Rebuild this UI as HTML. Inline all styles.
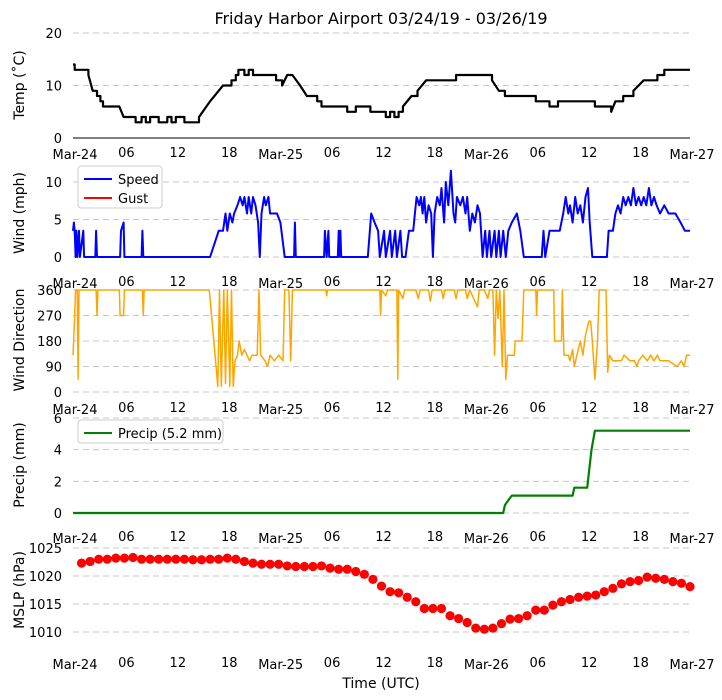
<!DOCTYPE html>
<html><head><meta charset="utf-8"><style>
body{margin:0;background:#fff}
svg{display:block;font-family:"DejaVu Sans","Liberation Sans",sans-serif}
</style></head><body>
<svg id="chart" width="722" height="700" viewBox="0 0 722 700" xmlns="http://www.w3.org/2000/svg">
<text x="381" y="24" font-size="16" text-anchor="middle">Friday Harbor Airport 03/24/19 - 03/26/19</text>
<text x="381" y="688" font-size="14" text-anchor="middle">Time (UTC)</text>
</svg>
<script>
const xTickHours = [0,6,12,18,24,30,36,42,48,54,60,66,72];
const xTickLabels = ["Mar-24","06","12","18","Mar-25","06","12","18","Mar-26","06","12","18","Mar-27"];
const tempObs = [[0,14],[0.2,13],[1.5,13],[1.8,12],[2.3,9],[2.8,8],[3.2,7],[3.5,6],[5.4,6],[5.9,4],[7,4],[7.3,3],[8,4],[8.5,3],[9,4],[9.5,4],[10,3],[11,4],[11.5,3],[12,4],[13,3],[14.2,3],[14.7,4],[16,7],[17.5,10],[18.5,11],[19,12],[19.3,13],[20,12],[20.5,13],[21,12],[22,12],[23.3,12],[23.7,11],[24.4,10],[25,12],[25.6,12],[26.5,10],[27.3,8],[28.5,7],[29,6],[31.4,6],[32,5],[33,6],[34.7,5],[35.5,5],[36,5],[36.5,4],[37,5],[37.5,4],[38,5],[38.5,6],[39.5,8],[40.2,9],[41.2,11],[42.9,11],[44.2,11],[44.7,12],[47.6,12],[48.9,11],[49.7,9],[50.4,8],[53.3,8],[54,7],[55.6,6],[56.6,7],[60.4,7],[60.9,6],[62.3,6],[62.8,5],[63.3,7],[64.2,8],[65.4,9],[66.6,11],[68.2,12],[69,13],[72,13]];
const windObs = [[0,3.5],[0.1,4.6],[0.2,3.5],[0.3,0],[0.4,3.5],[0.5,0],[0.7,3.5],[0.8,0],[1.2,3.5],[1.3,0],[2.6,0],[2.7,3.5],[2.8,0],[5.5,0],[5.6,3.5],[5.9,4.6],[6,0],[8,0],[8.1,3.5],[8.2,0],[16,0],[17,3.5],[17.5,3.5],[17.8,5.8],[18,3.5],[18.3,5.8],[18.6,4.6],[18.8,5.8],[19.2,6.9],[19.5,8],[19.8,6.9],[20,8],[20.3,5.8],[20.5,8],[20.8,5.8],[21,8],[21.3,6.9],[21.6,4.6],[21.8,0],[22,5.8],[22.3,8],[22.5,6.9],[22.8,8],[23,5.8],[23.8,5.8],[24.2,4.6],[24.7,0],[25.8,0],[25.9,4.6],[26,0],[29.3,0],[29.4,3.5],[29.6,0],[29.8,3.5],[29.9,0],[30.9,0],[31,3.5],[31.1,0],[31.2,3.5],[31.3,0],[34.4,0],[34.8,5.8],[35.2,4.6],[35.6,3.5],[35.8,0],[36.3,3.5],[36.5,0],[37,3.5],[37.2,0],[37.6,3.5],[37.8,0],[38.2,3.5],[38.4,0],[38.8,0],[39.2,3.5],[39.7,3.5],[39.9,5.8],[40.1,8],[40.4,6.9],[40.6,8],[40.8,5.8],[41,8],[41.2,4.6],[41.5,6.9],[41.8,5.8],[42,0],[42.2,5.8],[42.5,8],[42.8,6.9],[43,9.2],[43.3,4.6],[43.5,10],[43.8,6.9],[44.1,11.5],[44.4,5.8],[44.6,4.6],[44.8,8],[45.2,6.9],[45.5,8],[45.8,5.8],[46,8],[46.3,3.5],[46.6,5.8],[46.9,4.6],[47.2,6.9],[47.5,5.8],[47.8,0],[48.1,3.5],[48.3,0],[48.6,3.5],[48.8,0],[49.2,3.5],[49.4,0],[49.7,3.5],[49.9,0],[50.2,3.5],[50.5,0],[50.8,3.5],[51.2,4.6],[51.8,5.8],[52.2,3.5],[52.6,0],[54.7,0],[54.9,3.5],[55.1,0],[55.6,3.5],[56.8,3.5],[57.2,5.8],[57.5,8],[57.8,5.8],[58,6.9],[58.3,4.6],[58.6,8],[58.9,5.8],[59.2,6.9],[59.5,4.6],[59.8,8],[60.1,9.2],[60.3,4.6],[60.6,0],[62.3,0],[62.5,3.5],[63,3.5],[63.3,5.8],[63.6,6.9],[63.9,5.8],[64.2,8],[64.5,6.9],[64.8,8],[65.1,6.9],[65.4,9.2],[65.7,6.9],[66,8],[66.3,6.9],[66.6,8],[66.9,6.9],[67.2,9.2],[67.5,6.9],[67.8,8],[68.1,6.9],[68.5,5.8],[69,6.9],[69.5,5.8],[70.3,5.8],[70.9,4.6],[71.4,3.5],[72,3.5]];
const dirObs = [[0,130],[0.1,200],[0.3,360],[0.5,360],[0.6,45],[0.7,360],[2.7,360],[2.8,270],[2.9,360],[5.4,360],[5.5,270],[5.9,270],[6,360],[8.1,360],[8.2,270],[8.3,360],[15.9,360],[16.9,20],[17.1,360],[17.3,20],[17.6,360],[17.8,30],[18,360],[18.3,20],[18.5,360],[18.7,20],[18.9,110],[19.2,130],[19.4,180],[19.7,130],[20,150],[20.3,130],[20.6,110],[20.9,130],[21.5,130],[21.7,360],[21.9,130],[22.4,110],[22.7,90],[23,130],[23.5,110],[24,130],[24.5,110],[24.7,360],[25.2,360],[25.4,110],[25.6,360],[26,360],[29.5,360],[29.6,340],[29.7,360],[35.8,360],[35.9,270],[36,360],[36.5,340],[36.7,360],[37.8,360],[37.9,45],[38,360],[38.5,330],[38.7,360],[40,360],[40.3,330],[40.5,360],[41.5,360],[41.7,320],[41.9,360],[43,360],[43.2,330],[43.4,360],[44.5,360],[44.7,330],[44.9,360],[45.8,360],[46,330],[46.3,360],[47.2,300],[47.4,360],[48,360],[48.4,330],[48.6,360],[49,360],[49.2,130],[49.4,360],[49.6,260],[49.8,360],[50.1,90],[50.3,360],[50.5,45],[50.7,130],[51.2,130],[51.5,130],[51.6,180],[52.4,180],[52.6,360],[54,360],[54.1,270],[54.2,360],[56.1,360],[56.2,180],[57,180],[57.1,360],[57.3,130],[57.8,130],[58,110],[58.3,150],[58.5,90],[58.8,130],[59.2,180],[59.5,130],[59.8,200],[60.2,250],[60.4,250],[60.6,180],[60.9,45],[61.2,180],[61.4,360],[62.2,360],[62.4,70],[62.6,130],[63,110],[64,110],[64.3,130],[65,110],[65.5,110],[65.8,90],[66,110],[66.5,130],[67,110],[67.4,130],[67.8,110],[68.2,130],[68.5,110],[69.5,110],[70,100],[70.5,90],[71,110],[71.3,90],[71.6,130],[72,130]];
const precipObs = [[0,0],[50.2,0],[50.4,0.5],[50.8,0.8],[51.2,1.1],[58.3,1.1],[58.5,1.6],[60,1.6],[60.3,3],[60.5,4],[60.7,4.6],[60.9,5.2],[72,5.2]];
const mslpHours = [1,2,3,4,5,6,7,8,9,10,11,12,13,14,15,16,17,18,19,20,21,22,23,24,25,26,27,28,29,30,31,32,33,34,35,36,37,38,39,40,41,42,43,44,45,46,47,48,49,50,51,52,53,54,55,56,57,58,59,60,61,62,63,64,65,66,67,68,69,70,71,72];
const mslpValues = [1022.3,1022.6,1023.0,1023.0,1023.2,1023.2,1023.3,1023.0,1023.0,1023.0,1023.0,1023.0,1023.0,1022.9,1022.9,1023.0,1023.0,1023.2,1023.0,1022.6,1022.3,1022.1,1022.1,1022.1,1021.8,1021.7,1021.7,1021.7,1021.8,1021.4,1021.2,1021.2,1020.8,1020.3,1019.4,1018.2,1017.2,1017.0,1016.2,1015.4,1014.2,1014.2,1014.2,1012.9,1012.4,1011.7,1010.7,1010.5,1010.7,1011.5,1012.3,1012.4,1012.9,1013.9,1013.9,1014.8,1015.4,1015.8,1016.2,1016.4,1016.6,1017.2,1017.8,1018.6,1019.0,1019.2,1019.8,1019.6,1019.4,1019.0,1018.7,1018.1];
const tempTicks = [0,10,20];
const windTicks = [0,5,10];
const dirTicks = [0,90,180,270,360];
const precipTicks = [0,2,4,6];
const mslpTicks = [1010,1015,1020,1025];

const svg = document.getElementById('chart');
const NS = 'http://www.w3.org/2000/svg';
function mk(tag, attrs, parent){const e=document.createElementNS(NS,tag);for(const k in attrs)e.setAttribute(k,attrs[k]);(parent||svg).appendChild(e);return e;}
const X0=73, X1=690;
function xS(h){return X0+h*(X1-X0)/72;}
function lin(v0,y0,v1,y1){return v=>y0+(v-v0)*(y1-y0)/(v1-v0);}

const panels = [
 {name:'temp',label:'Temp (\u02daC)',ys:lin(0,138,20,33),ticks:tempTicks,xlab:157,cy:85,axisLine:true},
 {name:'wind',label:'Wind (mph)',ys:lin(0,257,10,182),ticks:windTicks,xlab:286,cy:213},
 {name:'direction',label:'Wind Direction',ys:lin(0,392,360,290),ticks:dirTicks,xlab:412,cy:340},
 {name:'precip',label:'Precip (mm)',ys:lin(0,513,6,418),ticks:precipTicks,xlab:541,cy:465},
 {name:'mslp',label:'MSLP (hPa)',ys:lin(1010,632,1025,548),ticks:mslpTicks,xlab:667,cy:590}
];

panels.forEach(p=>{
  const g=mk('g',{});
  
  
  p.g=g;
  p.ticks.forEach(t=>{
    const y=p.ys(t);
    if(!(p.axisLine && t===0)){
      const l=mk('line',{x1:X0,x2:X1,y1:y,y2:y,stroke:'#c8c8c8','stroke-width':1,'stroke-dasharray':'6,4'},g);
      
      
    }
    const tl=mk('text',{x:62,y:y+5,'font-size':13,'text-anchor':'end'},g);
    tl.textContent=t;
    
    
  });
  if(p.axisLine){
    const a=mk('line',{x1:X0,x2:X1,y1:p.ys(0),y2:p.ys(0),stroke:'#000','stroke-width':1},g);
    
    
  }
  xTickHours.forEach((h,i)=>{
    const t=mk('text',{x:xS(h)+2,y:p.xlab+(i%4===0?2:0),'font-size':13,'text-anchor':'middle'},g);
    t.textContent=xTickLabels[i];
    
    
  });
  const yl=mk('text',{x:0,y:0,'font-size':14,'text-anchor':'middle',transform:`translate(24,${p.cy}) rotate(-90)`},g);
  yl.textContent=p.label;
  
  
});

function line(obs,p,color,name,w,step){
  const pts=[];
  obs.forEach((o,i)=>{
    if(step && i>0 && Math.abs(o[1]-obs[i-1][1])<=1){
      pts.push(xS(o[0]).toFixed(1)+','+p.ys(obs[i-1][1]).toFixed(1));
    }
    pts.push(xS(o[0]).toFixed(1)+','+p.ys(o[1]).toFixed(1));
  });
  const pl=mk('polyline',{points:pts.join(' '),fill:'none',stroke:color,'stroke-width':w,'stroke-linejoin':'round'},p.g);
  
  
}
line(tempObs,panels[0],'#000','temperature-line',2.2,true);
line(windObs,panels[1],'#0000ff','wind-speed-line',2,false);
line(dirObs,panels[2],'#ffa500','wind-direction-line',1.5,false);
line(precipObs,panels[3],'#008000','precip-line',2.2,false);

const pm=panels[4];
mslpHours.forEach((h,i)=>{
  const c=mk('circle',{cx:xS(h),cy:pm.ys(mslpValues[i]),r:4.6,fill:'#ff0000'},pm.g);
  
  
});

function legend(x,y,w,h,items,name){
  const g=mk('g',{});
  
  
  mk('rect',{x:x,y:y,width:w,height:h,rx:3,fill:'#fff','fill-opacity':0.85,stroke:'#cccccc'},g);
  items.forEach((it,i)=>{
    const yy=y+13+i*19;
    const l=mk('line',{x1:x+6,x2:x+34,y1:yy,y2:yy,stroke:it[1],'stroke-width':2},g);
    
    
    const t=mk('text',{x:x+40,y:yy+5,'font-size':13},g);
    t.textContent=it[0];
    
    
  });
}
legend(78,166,84,42,[['Speed','#0000ff'],['Gust','#ff0000']],'wind-legend');
legend(78,420,145,23,[['Precip (5.2 mm)','#008000']],'precip-legend');
</script>
</body></html>
